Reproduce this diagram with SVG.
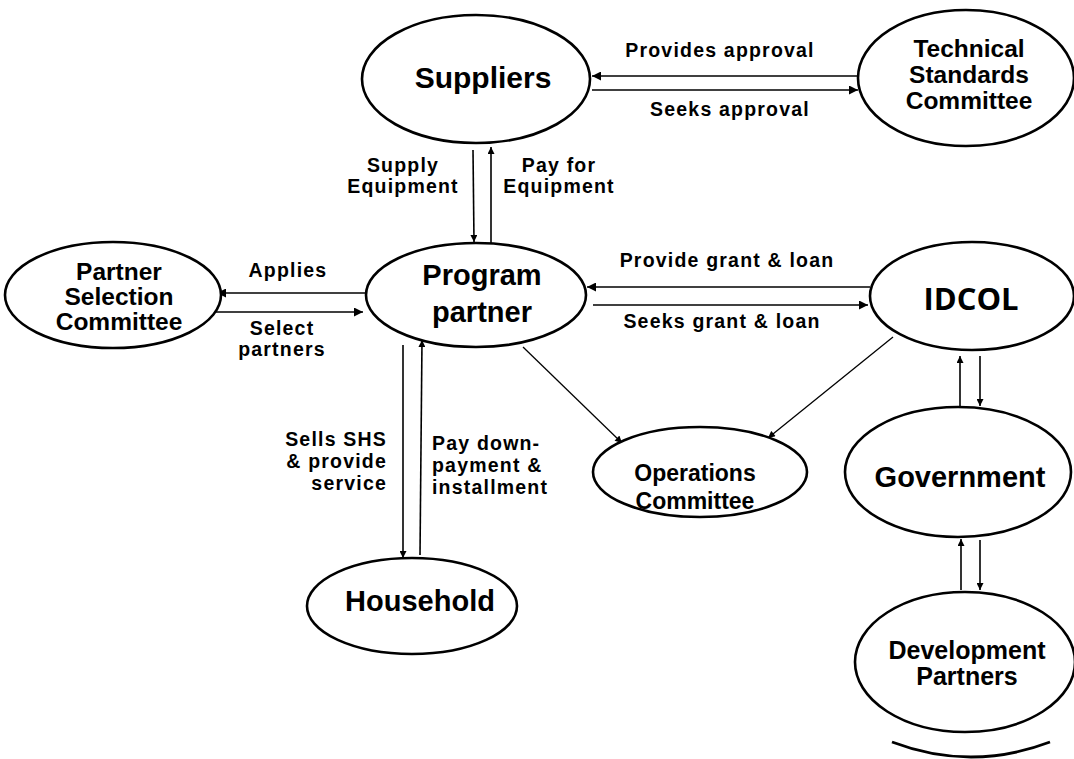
<svg xmlns="http://www.w3.org/2000/svg" width="1074" height="759" viewBox="0 0 1074 759">
  <style>
    .node { fill: #ffffff; stroke: #000000; stroke-width: 2.6; }
    .name { font-family: "Liberation Sans", Arial, sans-serif; font-weight: bold; fill: #000000; text-anchor: middle; }
    .idcol { font-family: "Open Sans", "Noto Sans", sans-serif; font-weight: bold; fill: #000000; text-anchor: middle; }
    .lbl { font-family: "Liberation Sans", Arial, sans-serif; font-weight: bold; font-size: 19.5px; letter-spacing: 1.2px; fill: #000000; }
    .edge { fill: none; stroke: #000000; stroke-width: 1.6; }
    .thin { fill: none; stroke: #000000; stroke-width: 1.3; }
  </style>
  <defs>
    <marker id="arrow" viewBox="0 0 10 10" refX="10" refY="5" markerWidth="13" markerHeight="9" orient="auto" markerUnits="userSpaceOnUse">
      <path d="M0,0 L10,5 L0,10 z" fill="#000000"/>
    </marker>
    <marker id="arrow-sm" viewBox="0 0 10 10" refX="10" refY="5" markerWidth="9" markerHeight="7" orient="auto" markerUnits="userSpaceOnUse">
      <path d="M0,0 L10,5 L0,10 z" fill="#000000"/>
    </marker>
  </defs>
  <rect width="1074" height="759" fill="#ffffff"/>

  <!-- connectors -->
  <g id="connectors">
    <line class="edge" x1="858" y1="76" x2="592" y2="76" marker-end="url(#arrow)"/>
    <line class="edge" x1="592" y1="90" x2="858" y2="90" marker-end="url(#arrow)"/>
    <line class="edge" x1="473" y1="150" x2="474" y2="242" marker-end="url(#arrow-sm)"/>
    <line class="edge" x1="491" y1="243" x2="491" y2="147" marker-end="url(#arrow-sm)"/>
    <line class="edge" x1="366" y1="293" x2="217" y2="293" marker-end="url(#arrow)"/>
    <line class="edge" x1="211" y1="312" x2="363" y2="312" marker-end="url(#arrow)"/>
    <line class="edge" x1="870" y1="287" x2="587" y2="287" marker-end="url(#arrow)"/>
    <line class="edge" x1="593" y1="305" x2="868" y2="305" marker-end="url(#arrow)"/>
    <line class="edge" x1="403" y1="345" x2="403" y2="558" marker-end="url(#arrow-sm)"/>
    <line class="edge" x1="420" y1="555" x2="422" y2="340" marker-end="url(#arrow-sm)"/>
    <line class="thin" x1="523" y1="347" x2="622" y2="443" marker-end="url(#arrow-sm)"/>
    <line class="thin" x1="893" y1="337" x2="768" y2="438" marker-end="url(#arrow-sm)"/>
    <line class="edge" x1="960" y1="407" x2="960" y2="356" marker-end="url(#arrow-sm)"/>
    <line class="edge" x1="980" y1="356" x2="980" y2="406" marker-end="url(#arrow-sm)"/>
    <line class="edge" x1="961" y1="590" x2="961" y2="539" marker-end="url(#arrow-sm)"/>
    <line class="edge" x1="980" y1="540" x2="980" y2="590" marker-end="url(#arrow-sm)"/>
  </g>

  <!-- connector labels -->
  <g id="edge-labels">
    <text class="lbl" x="720" y="57" text-anchor="middle">Provides approval</text>
    <text class="lbl" x="730" y="116" text-anchor="middle">Seeks approval</text>
    <text class="lbl" x="403" y="172" text-anchor="middle">Supply</text>
    <text class="lbl" x="403" y="193" text-anchor="middle">Equipment</text>
    <text class="lbl" x="559" y="172" text-anchor="middle">Pay for</text>
    <text class="lbl" x="559" y="193" text-anchor="middle">Equipment</text>
    <text class="lbl" x="288" y="277" text-anchor="middle">Applies</text>
    <text class="lbl" x="282" y="335" text-anchor="middle">Select</text>
    <text class="lbl" x="282" y="356" text-anchor="middle">partners</text>
    <text class="lbl" x="727" y="267" text-anchor="middle">Provide grant &amp; loan</text>
    <text class="lbl" x="722" y="328" text-anchor="middle">Seeks grant &amp; loan</text>
    <text class="lbl" x="387" y="446" text-anchor="end">Sells SHS</text>
    <text class="lbl" x="387" y="468" text-anchor="end">&amp; provide</text>
    <text class="lbl" x="387" y="490" text-anchor="end">service</text>
    <text class="lbl" x="432" y="450">Pay down-</text>
    <text class="lbl" x="432" y="472">payment &amp;</text>
    <text class="lbl" x="432" y="494">installment</text>
  </g>

  <!-- nodes -->
  <g id="suppliers">
    <ellipse class="node" cx="476" cy="79" rx="114" ry="64"/>
    <text class="name" x="483" y="88" font-size="30">Suppliers</text>
  </g>
  <g id="technical-standards-committee">
    <ellipse class="node" cx="966" cy="78" rx="108" ry="68"/>
    <text class="name" x="969" y="57" font-size="24.5">Technical</text>
    <text class="name" x="969" y="83" font-size="24.5">Standards</text>
    <text class="name" x="969" y="109" font-size="24.5">Committee</text>
  </g>
  <g id="partner-selection-committee">
    <ellipse class="node" cx="113" cy="295" rx="108" ry="53"/>
    <text class="name" x="119" y="280" font-size="24.5">Partner</text>
    <text class="name" x="119" y="305" font-size="24.5">Selection</text>
    <text class="name" x="119" y="330" font-size="24.5">Committee</text>
  </g>
  <g id="program-partner">
    <ellipse class="node" cx="476" cy="295" rx="110" ry="52"/>
    <text class="name" x="482" y="285" font-size="29">Program</text>
    <text class="name" x="482" y="322" font-size="29">partner</text>
  </g>
  <g id="idcol">
    <ellipse class="node" cx="972" cy="296" rx="102" ry="54"/>
    <text class="idcol" x="971" y="310" font-size="31">IDCOL</text>
  </g>
  <g id="operations-committee">
    <ellipse class="node" cx="700" cy="472" rx="107" ry="45"/>
    <text class="name" x="695" y="481" font-size="23">Operations</text>
    <text class="name" x="695" y="509" font-size="23">Committee</text>
  </g>
  <g id="government">
    <ellipse class="node" cx="958" cy="472" rx="113" ry="65"/>
    <text class="name" x="960" y="487" font-size="29">Government</text>
  </g>
  <g id="household">
    <ellipse class="node" cx="412" cy="606" rx="105" ry="48"/>
    <text class="name" x="420" y="611" font-size="29">Household</text>
  </g>
  <g id="development-partners">
    <ellipse class="node" cx="965" cy="662" rx="110" ry="70"/>
    <text class="name" x="967" y="659" font-size="25">Development</text>
    <text class="name" x="967" y="685" font-size="25">Partners</text>
  </g>
  <!-- lower edge of a further outline, cut off at the frame -->
  <path d="M892,742 Q971,772 1050,742" fill="none" stroke="#000000" stroke-width="2.8"/>
</svg>
